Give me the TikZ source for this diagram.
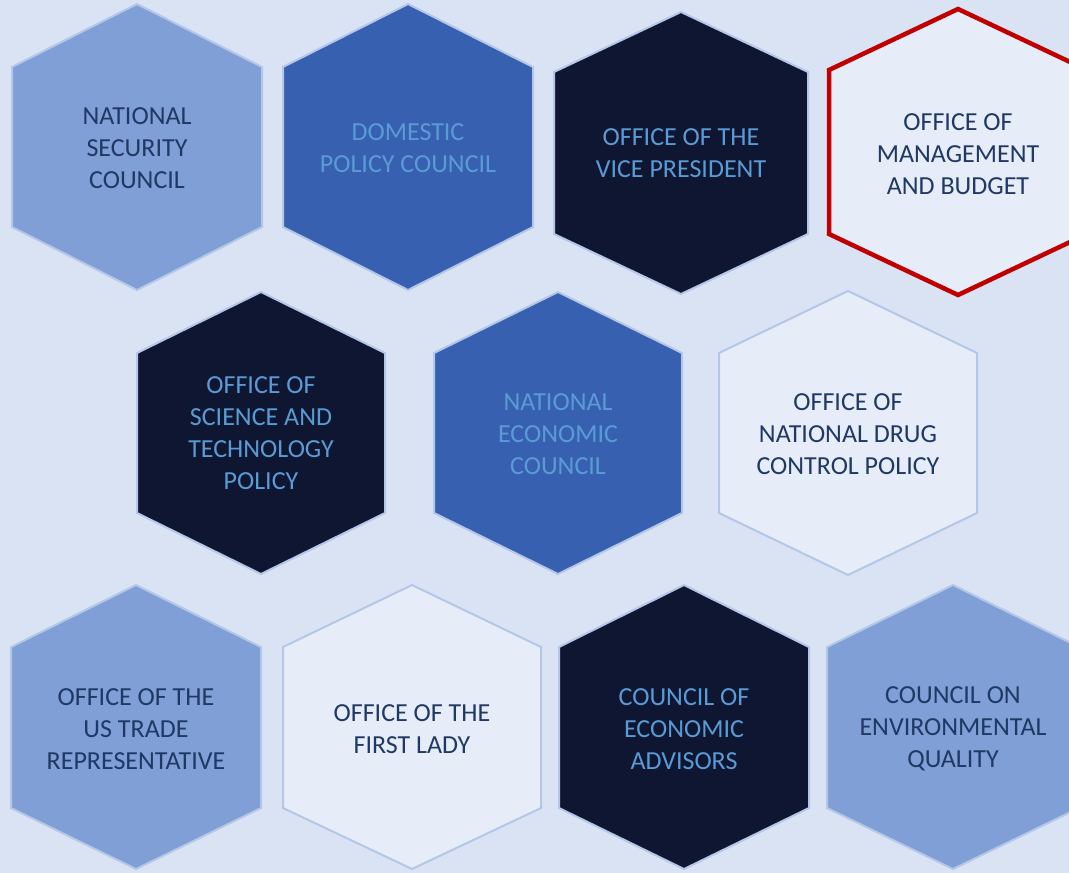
\documentclass[tikz,border=0pt]{standalone}
\usepackage{fontspec}
\setmainfont{Carlito}
\usepackage{tikz}
\usepackage{xcolor}

\definecolor{pagebg}{HTML}{DAE3F3}
\definecolor{litecell}{HTML}{809FD7}
\definecolor{midcell}{HTML}{3761B0}
\definecolor{darkcell}{HTML}{0F1632}
\definecolor{palecell}{HTML}{E6EDF8}
\definecolor{cellrim}{HTML}{B4C7E7}
\definecolor{ombred}{HTML}{C00000}
\definecolor{navytext}{HTML}{1F3864}
\definecolor{skytext}{HTML}{5B9BD5}

\begin{document}
\begin{tikzpicture}[x=1pt, y=-1pt,
  cell/.style={draw=cellrim, line width=2pt, line join=miter},
  lite/.style={cell, fill=litecell},
  mid/.style={cell, fill=midcell},
  dark/.style={cell, fill=darkcell},
  pale/.style={cell, fill=palecell},
  label/.style={align=center, font=\fontsize{26}{32}\selectfont},
  navy/.style={label, text=navytext},
  sky/.style={label, text=skytext}]
\path [use as bounding box, fill=pagebg] (0, 0) rectangle (1069, 873);
\clip (0, 0) rectangle (1069, 873);
% top row
\draw [lite] (137, 4) -- (262, 67) -- (262, 227) -- (137, 290) -- (12, 227) -- (12, 67) -- cycle;
\node [navy] (nsc) at (137, 148) {NATIONAL\\SECURITY\\COUNCIL};
\draw [mid] (408, 4) -- (533, 67) -- (533, 227) -- (408, 290) -- (283, 227) -- (283, 67) -- cycle;
\node [sky] (dpc) at (408, 148) {DOMESTIC\\POLICY COUNCIL};
\draw [dark] (681, 12) -- (808, 72) -- (808, 234) -- (681, 294) -- (554, 234) -- (554, 72) -- cycle;
\node [sky] (ovp) at (681, 153) {OFFICE OF THE\\VICE PRESIDENT};
\draw [pale, draw=ombred, line width=4.5pt] (958, 9) -- (1087, 70) -- (1087, 234) -- (958, 295) -- (829, 234) -- (829, 70) -- cycle;
\node [navy] (omb) at (958, 154) {OFFICE OF\\MANAGEMENT\\AND BUDGET};
% middle row
\draw [dark] (261, 292) -- (385, 353) -- (385, 513) -- (261, 574) -- (137, 513) -- (137, 353) -- cycle;
\node [sky] (ostp) at (261, 433) {OFFICE OF\\SCIENCE AND\\TECHNOLOGY\\POLICY};
\draw [mid] (558, 292) -- (682, 353) -- (682, 513) -- (558, 574) -- (434, 513) -- (434, 353) -- cycle;
\node [sky] (nec) at (558, 434) {NATIONAL\\ECONOMIC\\COUNCIL};
\draw [pale] (848, 291) -- (977, 353) -- (977, 513) -- (848, 575) -- (719, 513) -- (719, 353) -- cycle;
\node [navy] (ondcp) at (848, 434) {OFFICE OF\\NATIONAL DRUG\\CONTROL POLICY};
% bottom row
\draw [lite] (136, 585) -- (261, 647) -- (261, 808) -- (136, 869) -- (11, 808) -- (11, 647) -- cycle;
\node [navy] (ustr) at (136, 729) {OFFICE OF THE\\US TRADE\\REPRESENTATIVE};
\draw [pale] (412, 585) -- (541, 647) -- (541, 808) -- (412, 869) -- (283, 808) -- (283, 647) -- cycle;
\node [navy] (flotus) at (412, 729) {OFFICE OF THE\\FIRST LADY};
\draw [dark] (684, 585) -- (809, 647) -- (809, 808) -- (684, 869) -- (559, 808) -- (559, 647) -- cycle;
\node [sky] (cea) at (684, 729) {COUNCIL OF\\ECONOMIC\\ADVISORS};
\draw [lite] (953, 585) -- (1079, 647) -- (1079, 808) -- (953, 869) -- (827, 808) -- (827, 647) -- cycle;
\node [navy] (ceq) at (953, 729) {COUNCIL ON\\ENVIRONMENTAL\\QUALITY};
\end{tikzpicture}
\end{document}
